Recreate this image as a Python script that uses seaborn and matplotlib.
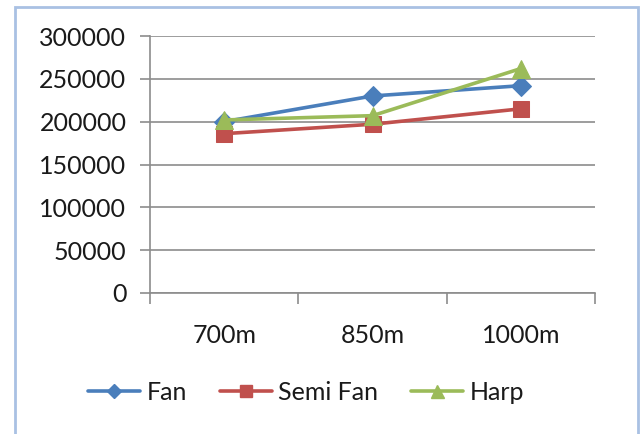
import matplotlib
matplotlib.use("Agg")
import matplotlib.pyplot as plt
from matplotlib.lines import Line2D
from matplotlib.patches import Rectangle
import seaborn as sns
import pandas as pd

# Span lengths and the values of each cable arrangement
spans = ["700m", "850m", "1000m"]
fan = [200000, 230000, 242000]
semi_fan = [186000, 197000, 215000]
harp = [202000, 207000, 262000]

series_names = ["Fan", "Semi Fan", "Harp"]
y_ticks = [0, 50000, 100000, 150000, 200000, 250000, 300000]

colors = {"Fan": "#4A7EBB", "Semi Fan": "#C0504D", "Harp": "#9BBB59"}
markers = {"Fan": "D", "Semi Fan": "s", "Harp": "^"}
msizes = {"Fan": 10, "Semi Fan": 12, "Harp": 13}

rows = []
for name, vals in zip(series_names, [fan, semi_fan, harp]):
    for i, (s, v) in enumerate(zip(spans, vals)):
        rows.append({"series": name, "pos": i, "span": s, "value": v})
df = pd.DataFrame(rows)

sns.set_theme(style="white")
plt.rcParams["font.family"] = ["Lato", "DejaVu Sans"]

fig = plt.figure(figsize=(6.43, 4.34), dpi=100)
ax = fig.add_axes([150 / 643, 1 - 293 / 434, 445 / 643, 257 / 434])

for name in series_names:
    sub = df[df["series"] == name]
    sns.lineplot(data=sub, x="pos", y="value", ax=ax, color=colors[name],
                 linewidth=2.6, marker=markers[name], markersize=msizes[name],
                 markeredgecolor=colors[name], legend=False, zorder=3)

ax.set_xlim(-0.5, 2.5)
ax.set_ylim(0, 300000)
ax.set_yticks(y_ticks)
ax.set_yticklabels([str(t) for t in y_ticks])
ax.set_xticks(range(len(spans)))
ax.set_xticklabels(spans)
ax.set_xticks([-0.5, 0.5, 1.5, 2.5], minor=True)
ax.set_xlabel("")
ax.set_ylabel("")

ax.yaxis.grid(True, color="#8C8C8C", linewidth=1.2)
ax.set_axisbelow(True)
for side in ["top", "right"]:
    ax.spines[side].set_visible(False)
for side in ["left", "bottom"]:
    ax.spines[side].set_color("#8C8C8C")
    ax.spines[side].set_linewidth(1.2)

fs = 18
ax.tick_params(axis="y", which="major", direction="out", length=7, width=1.2,
               color="#8C8C8C", labelsize=fs, labelcolor="#1a1a1a", pad=10, left=True)
ax.tick_params(axis="x", which="major", length=0, labelsize=fs,
               labelcolor="#1a1a1a", pad=22)
ax.tick_params(axis="x", which="minor", direction="out", length=8, width=1.2,
               color="#8C8C8C", bottom=True)

handles = [Line2D([0], [0], color=colors[n], linewidth=2.6, marker=markers[n],
                  markersize=msizes[n] * 0.72, markeredgecolor=colors[n])
           for n in series_names]
fig.legend(handles=handles, labels=series_names, loc="center",
           bbox_to_anchor=(306 / 643, 1 - 392 / 434), ncol=3, frameon=False,
           fontsize=fs, handlelength=2.1, handletextpad=0.25, columnspacing=1.3,
           labelcolor="#1a1a1a")

fig.patches.append(Rectangle((15 / 643, -0.05), 623 / 643, 1.05 - 7 / 434,
                             transform=fig.transFigure, fill=False,
                             edgecolor="#A9C1E3", linewidth=2))

fig.savefig("out.png", dpi=100, facecolor="white")
